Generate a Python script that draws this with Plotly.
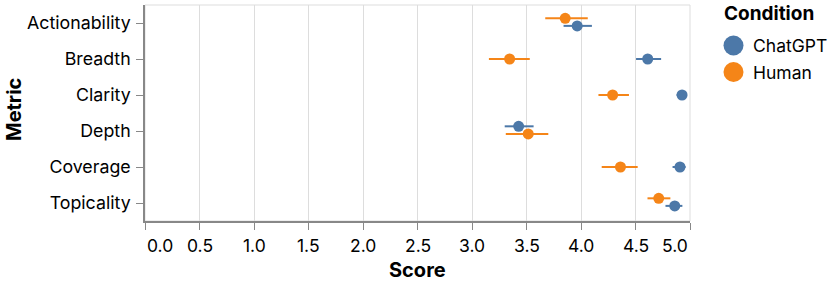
import plotly.graph_objects as go

# ---- data ----
metrics = ["Actionability", "Breadth", "Clarity", "Depth", "Coverage", "Topicality"]
conditions = ["ChatGPT", "Human"]
chatgpt_mean = [3.965, 4.612, 4.927, 3.428, 4.908, 4.86]
chatgpt_lo = [3.84, 4.505, 4.877, 3.30, 4.84, 4.775]
chatgpt_hi = [4.10, 4.735, 4.97, 3.565, 4.96, 4.93]
human_mean = [3.855, 3.345, 4.29, 3.516, 4.362, 4.713]
human_lo = [3.672, 3.155, 4.16, 3.31, 4.19, 4.61]
human_hi = [4.062, 3.53, 4.44, 3.70, 4.52, 4.82]
x_ticks = [0.0, 0.5, 1.0, 1.5, 2.0, 2.5, 3.0, 3.5, 4.0, 4.5, 5.0]

# ---- style ----
colors = {"ChatGPT": "#4c78a8", "Human": "#f58518"}
FONT = "Inter, Roboto, sans-serif"
TICK_SIZE = 17.5
YTICK_SIZE = 17.8
TITLE_SIZE = 20
LEGEND_TITLE_SIZE = 19
UP, DOWN = -0.13, 0.08  # dodge (band units) when intervals overlap
W, H = 830, 282
ML, MR, MT, MB = 145, 140, 5, 61
PW, PH = W - ML - MR, H - MT - MB


def px_x(px):  # pixel x -> paper x
    return (px - ML) / PW


def px_y(py):  # pixel y -> paper y
    return (H - MB - py) / PH


series = {
    "ChatGPT": (chatgpt_mean, chatgpt_lo, chatgpt_hi),
    "Human": (human_mean, human_lo, human_hi),
}

# dodge when intervals overlap: the lower mean goes above
offsets = {c: [0.0] * len(metrics) for c in conditions}
for i in range(len(metrics)):
    if chatgpt_lo[i] <= human_hi[i] and human_lo[i] <= chatgpt_hi[i]:
        if chatgpt_mean[i] < human_mean[i]:
            offsets["ChatGPT"][i], offsets["Human"][i] = UP, DOWN
        else:
            offsets["Human"][i], offsets["ChatGPT"][i] = UP, DOWN

fig = go.Figure()
for c in conditions:
    mean, lo, hi = series[c]
    ys = [i + offsets[c][i] for i in range(len(metrics))]
    fig.add_trace(go.Scatter(
        x=mean, y=ys, mode="markers", name=c, showlegend=False,
        marker=dict(color=colors[c], size=11, line=dict(width=0)),
        error_x=dict(type="data", symmetric=False,
                     array=[h - m for h, m in zip(hi, mean)],
                     arrayminus=[m - l for m, l in zip(mean, lo)],
                     color=colors[c], thickness=2, width=0),
        hoverinfo="skip",
    ))

shapes = [dict(type="rect", xref="paper", yref="paper", x0=0, x1=1, y0=0, y1=1,
               line=dict(color="#dddddd", width=1), layer="below")]
annotations = [
    dict(text="<b>Score</b>", xref="paper", yref="paper", x=0.5, y=px_y(270),
         xanchor="center", yanchor="middle", showarrow=False,
         font=dict(size=TITLE_SIZE, family=FONT)),
    dict(text="<b>Metric</b>", xref="paper", yref="paper", x=px_x(14), y=px_y(110),
         xanchor="center", yanchor="middle", showarrow=False, textangle=-90,
         font=dict(size=TITLE_SIZE, family=FONT)),
    dict(text="<b>Condition</b>", xref="paper", yref="paper", x=px_x(722), y=px_y(14),
         xanchor="left", yanchor="middle", showarrow=False,
         font=dict(size=LEGEND_TITLE_SIZE, family=FONT)),
]
# x tick labels (first flush-left, last flush-right)
for k, v in enumerate(x_ticks):
    anchor = "left" if k == 0 else ("right" if k == len(x_ticks) - 1 else "center")
    annotations.append(dict(
        text=f"{v:.1f}", xref="x", yref="paper", x=v, y=px_y(245),
        xanchor=anchor, yanchor="middle", showarrow=False,
        font=dict(size=TICK_SIZE, family=FONT, color="#000")))
# legend
for k, c in enumerate(conditions):
    cy = 45.5 + 26.5 * k
    shapes.append(dict(type="circle", xref="paper", yref="paper",
                       xsizemode="pixel", ysizemode="pixel",
                       xanchor=px_x(733.5), yanchor=px_y(cy),
                       x0=-10, x1=10, y0=-10, y1=10,
                       fillcolor=colors[c], line=dict(width=0)))
    annotations.append(dict(text=c, xref="paper", yref="paper", x=px_x(751), y=px_y(cy),
                            xanchor="left", yanchor="middle", showarrow=False,
                            font=dict(size=TICK_SIZE, family=FONT, color="#000")))

fig.update_layout(
    width=W, height=H,
    margin=dict(l=ML, r=MR, t=MT, b=MB, autoexpand=False),
    paper_bgcolor="white", plot_bgcolor="white",
    font=dict(family=FONT, size=TICK_SIZE, color="#000"),
    showlegend=False,
    xaxis=dict(
        range=[0, 5], tickvals=x_ticks, showticklabels=False,
        showgrid=True, gridcolor="#dddddd", gridwidth=1,
        showline=True, linecolor="#888888", linewidth=1.5,
        ticks="outside", ticklen=7, tickcolor="#888888",
        zeroline=False, fixedrange=True,
    ),
    yaxis=dict(
        range=[len(metrics) - 0.5, -0.5],
        tickvals=list(range(len(metrics))), ticktext=metrics,
        showgrid=False, showline=True, linecolor="#888888", linewidth=1.5,
        ticks="outside", ticklen=7, tickcolor="#888888", ticklabelstandoff=2,
        tickfont=dict(size=YTICK_SIZE, family=FONT, color="#000"),
        zeroline=False, fixedrange=True,
    ),
    shapes=shapes,
    annotations=annotations,
)

fig.write_html("out.html", config={"displayModeBar": False},
               post_script="document.body.style.margin='0';document.body.style.overflow='hidden';")
